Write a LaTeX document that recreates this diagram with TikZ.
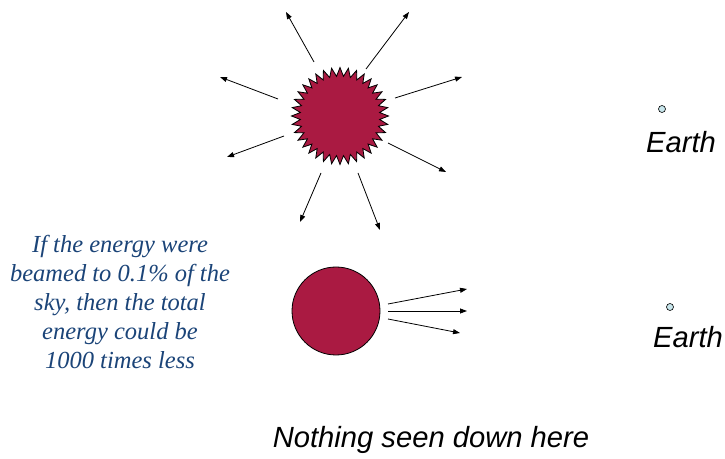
\documentclass[tikz,border=0pt]{standalone}
\usepackage{fontspec}
\setmainfont{Liberation Serif}
\newfontfamily\arialfont{Liberation Sans}
\usepackage{xcolor}
\usetikzlibrary{arrows.meta,calc,shapes.geometric}
\definecolor{sunred}{RGB}{170,26,66}
\definecolor{noteblue}{RGB}{27,68,120}
\definecolor{earthblue}{RGB}{200,230,236}
\tikzset{ray/.style={-{Triangle[length=7bp,width=5bp]},line width=0.8bp},
  earthdot/.style={circle,draw,fill=earthblue,inner sep=0pt,minimum size=7bp,line width=0.6bp},
  earthlabel/.style={font=\arialfont\itshape\fontsize{29.3}{34}\selectfont}}

\begin{document}
\begin{tikzpicture}[x=1bp,y=-1bp]
    \useasboundingbox(0,0)rectangle(725,459);
    % isotropic burst
    \node[star,star points=36,star point ratio=1.22,minimum size=97bp,inner sep=0pt,draw,fill=sunred,line width=0.8bp](sun)at(340,116){};
    \foreach\sx/\sy/\ex/\ey in{-26/-54/-54/-104,26/-47/69/-104,55/-18/122/-39,-62/-17/-120/-39,-56/20/-113/41,48/27/106/56,-19/57/-40/106,18/57/40/114}{\draw[ray]($(sun)+(\sx,\sy)$)--($(sun)+(\ex,\ey)$);};
    \node[earthdot](earthA)at(662,109){};\node[earthlabel](labA)at(681,142){Earth};

    % beamed burst
    \node[circle,draw,fill=sunred,minimum size=88bp,inner sep=0pt,line width=0.8bp](ball)at(336,311){};
    \foreach\sy/\ex/\ey in{-7/131/-22,0/131/0,8/124/22}{\draw[ray]($(ball)+(52,\sy)$)--($(ball)+(\ex,\ey)$);};
    \node[earthdot](earthB)at(670,307){};\node[earthlabel](labB)at(688,337){Earth};

    \node[align=center,text=noteblue,font=\itshape\fontsize{24.6}{29.3}\selectfont](note)at(120,302){If the energy were\\beamed to 0.1\% of the\\sky, then the total\\energy could be\\1000 times less};
    \node[earthlabel](nothing)at(431,440){Nothing seen down here};
\end{tikzpicture}
\end{document}
